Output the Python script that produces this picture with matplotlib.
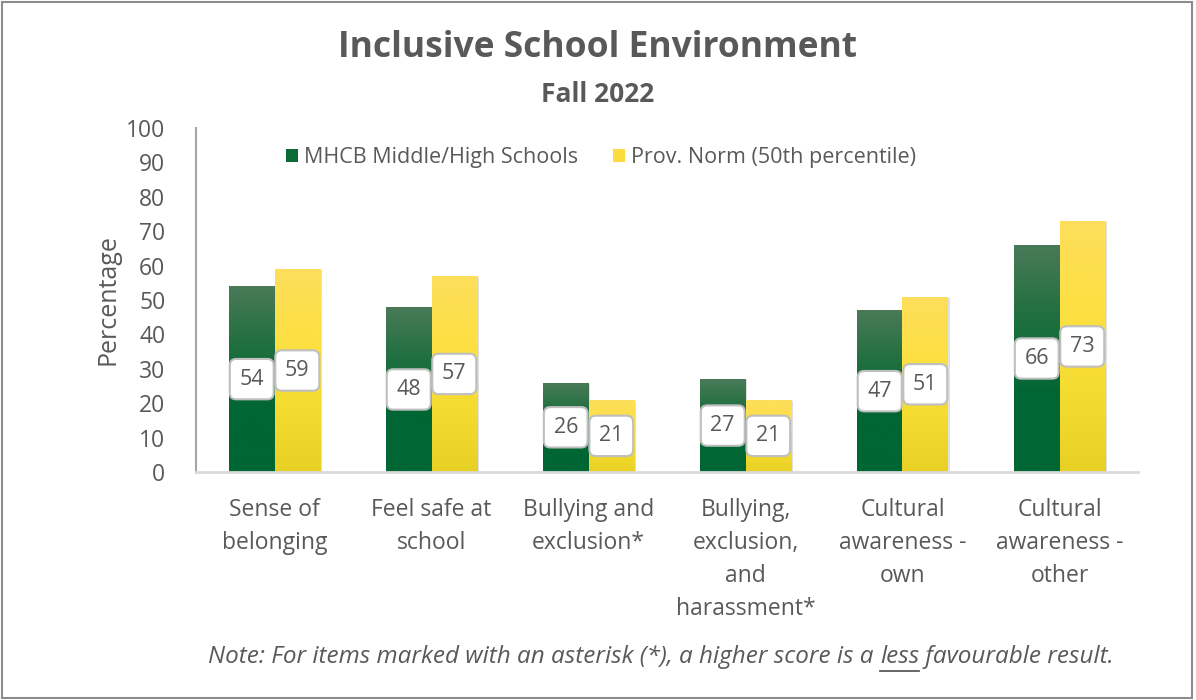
import numpy as np
import matplotlib
matplotlib.use('Agg')
import matplotlib.pyplot as plt
from matplotlib.patches import Patch, Rectangle
from matplotlib.colors import LinearSegmentedColormap

plt.rcParams['font.family'] = ['Open Sans', 'DejaVu Sans']

# Данные
categories = ['Sense of\nbelonging', 'Feel safe at\nschool', 'Bullying and\nexclusion*',
              'Bullying,\nexclusion,\nand\nharassment*', 'Cultural\nawareness -\nown',
              'Cultural\nawareness -\nother']
mhcb = [54, 48, 26, 27, 47, 66]
prov_norm = [59, 57, 21, 21, 51, 73]
series_names = ['MHCB Middle/High Schools', 'Prov. Norm (50th percentile)']
yticks = [0, 10, 20, 30, 40, 50, 60, 70, 80, 90, 100]

TEXT = '#595959'
green_cmap = LinearSegmentedColormap.from_list('g', ['#006633', '#006633', '#1e6f3f', '#4a7a58'])
yellow_cmap = LinearSegmentedColormap.from_list('y', ['#e8d024', '#f5dc30', '#fde044', '#fdde5c'])

fig = plt.figure(figsize=(11.96, 7.0), dpi=100)
fig.patches.append(Rectangle((0.002, 0.003), 0.995, 0.994, transform=fig.transFigure,
                             fill=False, ec='#8c8c8c', lw=1.5))
ax = fig.add_axes([196 / 1196, 1 - 472 / 700, 942 / 1196, 344 / 700])

x = np.arange(len(categories))
width = 0.29
grad = np.linspace(0, 1, 256).reshape(-1, 1)


def gradient_bars(xs, vals, cmap):
	bars = ax.bar(xs, vals, width, color='none', edgecolor='none', zorder=2)
	for b in bars:
		x0, y0 = b.get_x(), b.get_y()
		w, h = b.get_width(), b.get_height()
		# лёгкая тень справа
		ax.add_patch(Rectangle((x0 + 0.012, y0), w, h - 0.3, color='#000000',
		                       alpha=0.12, lw=0, zorder=1))
		im = ax.imshow(grad, cmap=cmap, origin='lower', aspect='auto',
		               extent=[x0, x0 + w, y0, y0 + h], zorder=2)
		im.set_clip_path(b)
	return bars


gradient_bars(x - width / 2, mhcb, green_cmap)
gradient_bars(x + width / 2, prov_norm, yellow_cmap)

# Подписи значений в рамках
for xs, vals in [(x - width / 2, mhcb), (x + width / 2, prov_norm)]:
	for xi, v in zip(xs, vals):
		ax.text(xi, v / 2, f'{v}', ha='center', va='center', fontsize=15.5, color=TEXT, zorder=5,
		        bbox=dict(boxstyle='round,pad=0.45,rounding_size=0.3', fc='white',
		                  ec='#bfbfbf', lw=1.5))

ax.set_xlim(-0.5, len(categories) - 0.5)
ax.set_ylim(0, 100)
ax.set_yticks(yticks)
ax.set_xticks(x)
ax.set_xticklabels(categories, fontsize=16.5, color=TEXT, linespacing=1.5)
ax.tick_params(axis='y', labelsize=16.5, colors=TEXT, length=0, pad=22)
ax.tick_params(axis='x', length=0, pad=19)
for s in ['top', 'right']:
	ax.spines[s].set_visible(False)
ax.spines['left'].set_color('#a6a6a6')
ax.spines['left'].set_linewidth(1.5)
ax.spines['bottom'].set_color('#d9d9d9')
ax.spines['bottom'].set_linewidth(2)
ax.set_ylabel('Percentage', fontsize=18, color=TEXT, labelpad=4)

handles = [Patch(facecolor='#0b6b36', edgecolor='none'),
           Patch(facecolor='#fbdc3c', edgecolor='none')]
ax.legend(handles, series_names, loc='center', bbox_to_anchor=(0.43, 0.915), ncol=2,
          frameon=False, fontsize=15.5, labelcolor=TEXT, handlelength=0.55, handleheight=0.55,
          handletextpad=0.3, columnspacing=1.6)

fig.text(0.5, 1 - 48 / 700, 'Inclusive School Environment', ha='center', va='center',
         fontsize=25.5, fontweight='bold', color=TEXT)
fig.text(0.5, 1 - 95 / 700, 'Fall 2022', ha='center', va='center',
         fontsize=19, fontweight='bold', color=TEXT)

# Примечание с подчёркнутым словом "less"
parts = ['Note: For items marked with an asterisk (*), a higher score is a ', 'less',
         ' favourable result.']
note_size = 17.5
fig.canvas.draw()
renderer = fig.canvas.get_renderer()
widths = []
for p in parts:
	t = fig.text(0, 0, p, fontsize=note_size, style='italic')
	widths.append(t.get_window_extent(renderer).width)
	t.remove()
total = sum(widths)
x_px = 661 - total / 2
y_px = 700 - 657
for p, w in zip(parts, widths):
	fig.text(x_px / 1196, y_px / 700, p, fontsize=note_size, style='italic', color=TEXT,
	         ha='left', va='center')
	if p == 'less':
		fig.add_artist(plt.Line2D([x_px / 1196, (x_px + w) / 1196],
		                          [(y_px - 14) / 700, (y_px - 14) / 700],
		                          transform=fig.transFigure, color=TEXT, lw=1.3))
	x_px += w

fig.savefig('out.png', dpi=100)
